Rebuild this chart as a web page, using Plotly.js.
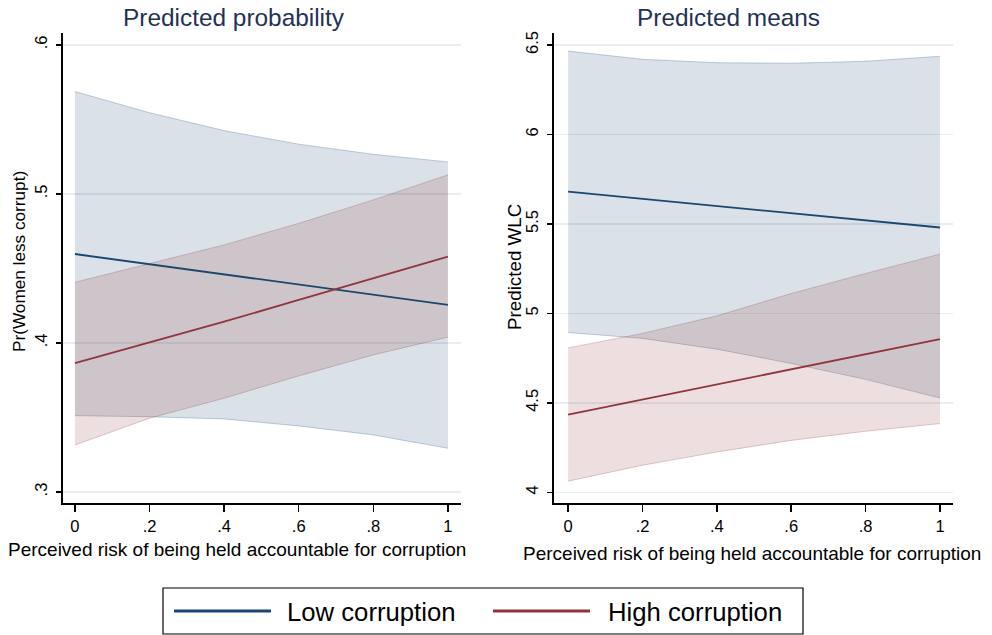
<!DOCTYPE html>
<html>
<head>
<meta charset="utf-8">
<script src="https://cdn.plot.ly/plotly-3.0.1.min.js"></script>
<style>html,body{margin:0;padding:0;background:#fff;}#chart{width:992px;height:635px;}</style>
</head>
<body>
<div id="chart"></div>
<script>
// ---- data ----
const xRisk = [0, 0.2, 0.4, 0.6, 0.8, 1];

// Left panel: predicted probability
const probLow      = [0.4597, 0.4528, 0.4460, 0.4392, 0.4323, 0.4255];
const probLowUpper = [0.5687, 0.5545, 0.5425, 0.5334, 0.5266, 0.5215];
const probLowLower = [0.3512, 0.3505, 0.3490, 0.3443, 0.3383, 0.3293];
const probHigh      = [0.3864, 0.4002, 0.4143, 0.4289, 0.4436, 0.4579];
const probHighUpper = [0.4407, 0.4533, 0.4658, 0.4803, 0.4960, 0.5128];
const probHighLower = [0.3315, 0.3495, 0.3629, 0.3779, 0.3920, 0.4039];

// Right panel: predicted means
const meanLow      = [5.680, 5.640, 5.600, 5.560, 5.520, 5.480];
const meanLowUpper = [6.466, 6.420, 6.401, 6.398, 6.409, 6.437];
const meanLowLower = [4.893, 4.860, 4.800, 4.720, 4.631, 4.527];
const meanHigh      = [4.4345, 4.519, 4.603, 4.687, 4.772, 4.856];
const meanHighUpper = [4.807, 4.888, 4.986, 5.111, 5.223, 5.331];
const meanHighLower = [4.062, 4.151, 4.225, 4.290, 4.341, 4.384];

const xTickVals = [0, 0.2, 0.4, 0.6, 0.8, 1];
const xTickText = ["0", ".2", ".4", ".6", ".8", "1"];
const probTickVals = [0.3, 0.4, 0.5, 0.6];
const probTickText = [".3", ".4", ".5", ".6"];
const meanTickVals = [4, 4.5, 5, 5.5, 6, 6.5];
const meanTickText = ["4", "4.5", "5", "5.5", "6", "6.5"];

const seriesNames = ["Low corruption", "High corruption"];
const titles = ["Predicted probability", "Predicted means"];
const yTitles = ["Pr(Women less corrupt)", "Predicted WLC"];
const xTitle = "Perceived risk of being held accountable for corruption";

// ---- styles ----
const BLUE = '#1a476f', RED = '#90353b';
const BLUE_FILL = 'rgba(26,71,111,0.16)', RED_FILL = 'rgba(144,53,59,0.16)';
const BLUE_EDGE = 'rgba(26,71,111,0.25)', RED_EDGE = 'rgba(144,53,59,0.25)';
const FONT = 'Liberation Sans, Arial, sans-serif';

function band(upper, lower, edge, fill, xa, ya) {
  return [
    {x: xRisk, y: upper, xaxis: xa, yaxis: ya, mode: 'lines', line: {color: edge, width: 1}, showlegend: false, hoverinfo: 'skip'},
    {x: xRisk, y: lower, xaxis: xa, yaxis: ya, mode: 'lines', line: {color: edge, width: 1}, fill: 'tonexty', fillcolor: fill, showlegend: false, hoverinfo: 'skip'}
  ];
}
function line(y, color, name, xa, ya) {
  return {x: xRisk, y: y, xaxis: xa, yaxis: ya, mode: 'lines', line: {color: color, width: 1.8}, name: name, showlegend: false};
}

const traces = [].concat(
  band(probLowUpper, probLowLower, BLUE_EDGE, BLUE_FILL, 'x', 'y'),
  band(probHighUpper, probHighLower, RED_EDGE, RED_FILL, 'x', 'y'),
  [line(probLow, BLUE, seriesNames[0], 'x', 'y'), line(probHigh, RED, seriesNames[1], 'x', 'y')],
  band(meanLowUpper, meanLowLower, BLUE_EDGE, BLUE_FILL, 'x2', 'y2'),
  band(meanHighUpper, meanHighLower, RED_EDGE, RED_FILL, 'x2', 'y2'),
  [line(meanLow, BLUE, seriesNames[0], 'x2', 'y2'), line(meanHigh, RED, seriesNames[1], 'x2', 'y2')]
);

const W = 992, H = 635;
const px = v => v / W, py = v => 1 - v / H;

const xAxisBase = {
  tickvals: xTickVals, ticktext: xTickText, ticks: 'outside', ticklen: 7, tickwidth: 1.5, tickcolor: '#000',
  showline: true, linecolor: '#000', linewidth: 2, showgrid: false, zeroline: false,
  tickfont: {family: FONT, size: 16.5, color: '#000'}, fixedrange: true
};
const yAxisBase = {
  ticks: 'outside', ticklen: 5, tickwidth: 1.5, tickcolor: '#000', tickangle: -90, ticklabelstandoff: 2,
  showline: true, linecolor: '#000', linewidth: 2, showgrid: true, gridcolor: '#e6eef1', gridwidth: 1.5, zeroline: false,
  tickfont: {family: FONT, size: 16.5, color: '#000'}, fixedrange: true
};

function ann(text, x, y, size, color, extra) {
  return Object.assign({text: text, x: px(x), y: py(y), xref: 'paper', yref: 'paper', showarrow: false,
    xanchor: 'center', yanchor: 'middle', font: {family: FONT, size: size, color: color}}, extra || {});
}

const layout = {
  width: W, height: H,
  margin: {l: 0, r: 0, t: 0, b: 0},
  paper_bgcolor: '#fff', plot_bgcolor: '#fff',
  showlegend: false,
  xaxis: Object.assign({}, xAxisBase, {domain: [px(63), px(461)], range: [-0.032, 1.035], anchor: 'y'}),
  yaxis: Object.assign({}, yAxisBase, {domain: [py(503), py(33)], range: [0.2926, 0.608], tickvals: probTickVals, ticktext: probTickText, anchor: 'x'}),
  xaxis2: Object.assign({}, xAxisBase, {domain: [px(554), px(953)], range: [-0.038, 1.035], anchor: 'y2'}),
  yaxis2: Object.assign({}, yAxisBase, {domain: [py(503), py(33)], range: [3.94, 6.567], tickvals: meanTickVals, ticktext: meanTickText, anchor: 'x2'}),
  annotations: [
    ann(titles[0], 234, 17, 24.4, '#1f3258'),
    ann(titles[1], 728, 17, 24.4, '#1f3258'),
    ann(yTitles[0], 19, 262, 17.2, '#000', {textangle: -90}),
    ann(yTitles[1], 514, 267, 18.8, '#000', {textangle: -90}),
    ann(xTitle, 237, 549, 19, '#000'),
    ann(xTitle, 752, 553, 19, '#000'),
    ann(seriesNames[0], 285, 612, 25.7, '#000', {xanchor: 'left'}),
    ann(seriesNames[1], 606, 612, 25.7, '#000', {xanchor: 'left'})
  ],
  shapes: [
    {type: 'rect', xref: 'paper', yref: 'paper', x0: px(163), x1: px(803), y0: py(634), y1: py(588), line: {color: '#000', width: 1.2}, fillcolor: 'rgba(0,0,0,0)'},
    {type: 'line', xref: 'paper', yref: 'paper', x0: px(174), x1: px(271), y0: py(611), y1: py(611), line: {color: BLUE, width: 3}},
    {type: 'line', xref: 'paper', yref: 'paper', x0: px(493), x1: px(590), y0: py(611), y1: py(611), line: {color: RED, width: 3}}
  ]
};

Plotly.newPlot('chart', traces, layout, {displayModeBar: false, staticPlot: true});
</script>
</body>
</html>
